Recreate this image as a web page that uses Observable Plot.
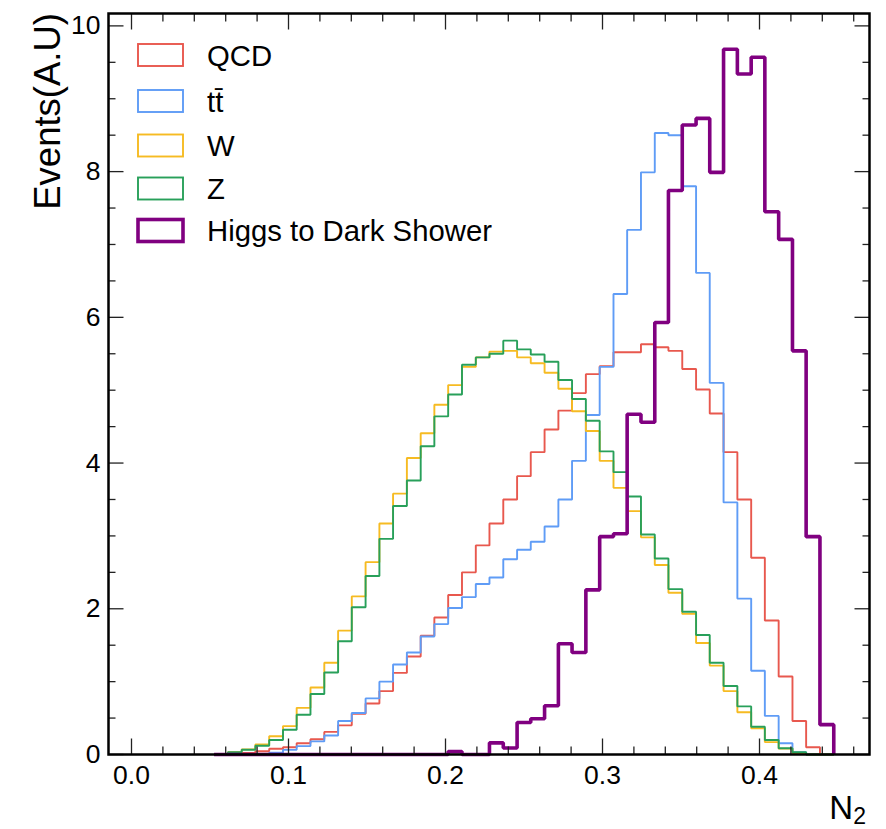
<!DOCTYPE html>
<html>
<head>
<meta charset="utf-8">
<script src="https://cdn.jsdelivr.net/npm/d3@7"></script>
<script src="https://cdn.jsdelivr.net/npm/@observablehq/plot@0.6"></script>
<style>
  html, body { margin: 0; padding: 0; background: #fff; }
  #chart svg { display: block; }
</style>
</head>
<body>
<div id="chart"></div>
<script>
// Bin edges of N2 (left edges of each bin, plus final right edge)
const binEdges = [0.0526, 0.0614, 0.0702, 0.0789, 0.0877, 0.0965, 0.1052, 0.1140, 0.1228, 0.1316,
  0.1403, 0.1491, 0.1579, 0.1666, 0.1754, 0.1842, 0.1929, 0.2017, 0.2105, 0.2193,
  0.2280, 0.2368, 0.2456, 0.2543, 0.2631, 0.2719, 0.2806, 0.2894, 0.2982, 0.3070,
  0.3157, 0.3245, 0.3333, 0.3420, 0.3508, 0.3596, 0.3683, 0.3771, 0.3859, 0.3947,
  0.4034, 0.4122, 0.4210, 0.4297, 0.4385, 0.4473];

// Bin contents (Events, A.U.)
const qcd = [0, 0, 0.02, 0.045, 0.078, 0.10, 0.155, 0.21, 0.31, 0.40,
  0.56, 0.70, 0.87, 1.12, 1.345, 1.63, 1.88, 2.19, 2.50, 2.87,
  3.17, 3.50, 3.82, 4.15, 4.46, 4.72, 4.96, 5.22, 5.33, 5.52,
  5.52, 5.63, 5.59, 5.54, 5.29, 5.01, 4.68, 4.15, 3.50, 2.70,
  1.84, 1.07, 0.46, 0.10, 0];
const ttbar = [0, 0, 0, 0, 0.023, 0.064, 0.115, 0.18, 0.26, 0.46,
  0.57, 0.77, 1.00, 1.235, 1.40, 1.62, 1.79, 2.01, 2.16, 2.34,
  2.43, 2.68, 2.81, 2.92, 3.13, 3.50, 4.03, 4.66, 5.32, 6.32,
  7.20, 7.99, 8.53, 8.50, 7.80, 6.61, 5.10, 3.46, 2.14, 1.15,
  0.53, 0.155, 0.03, 0, 0];
const wjets = [0, 0.03, 0.07, 0.137, 0.25, 0.39, 0.64, 0.92, 1.26, 1.70,
  2.17, 2.64, 3.17, 3.58, 4.07, 4.41, 4.80, 5.07, 5.32, 5.45,
  5.53, 5.54, 5.45, 5.37, 5.24, 5.02, 4.71, 4.44, 4.03, 3.66,
  3.34, 2.98, 2.60, 2.22, 1.93, 1.53, 1.22, 0.87, 0.58, 0.36,
  0.17, 0.08, 0.02, 0, 0];
const zjets = [0, 0.03, 0.065, 0.12, 0.20, 0.34, 0.545, 0.83, 1.125, 1.555,
  2.02, 2.45, 2.96, 3.41, 3.76, 4.23, 4.64, 4.94, 5.35, 5.45,
  5.50, 5.68, 5.56, 5.49, 5.39, 5.14, 4.88, 4.58, 4.16, 3.875,
  3.54, 3.02, 2.69, 2.27, 1.96, 1.64, 1.26, 0.94, 0.66, 0.38,
  0.20, 0.085, 0.03, 0, 0];
const higgs = [0, 0, 0, 0, 0, 0, 0, 0, 0, 0,
  0, 0, 0, 0, 0, 0, 0, 0.04, 0, 0,
  0.16, 0.09, 0.44, 0.49, 0.67, 1.52, 1.40, 2.26, 2.99, 3.03,
  4.67, 4.56, 5.93, 7.74, 8.64, 8.73, 7.99, 9.68, 9.34, 9.57,
  7.45, 7.07, 5.54, 2.99, 0.41];

const seriesNames = ["QCD", "tt\u0304", "W", "Z", "Higgs to Dark Shower"];
const seriesValues = [qcd, ttbar, wjets, zjets, higgs];
const seriesColors = ["#e8584e", "#5f9cf6", "#f6bb22", "#28a05a", "#800080"];
const seriesWidths = [1.9, 1.9, 1.9, 1.9, 3.6];

// Axis ticks
const xMajor = [0.0, 0.1, 0.2, 0.3, 0.4];
const xMinor = [0.02, 0.04, 0.06, 0.08, 0.12, 0.14, 0.16, 0.18, 0.22, 0.24, 0.26, 0.28,
  0.32, 0.34, 0.36, 0.38, 0.42, 0.44, 0.46];
const yMajor = [0, 2, 4, 6, 8, 10];
const yMinor = [0.5, 1, 1.5, 2.5, 3, 3.5, 4.5, 5, 5.5, 6.5, 7, 7.5, 8.5, 9, 9.5];

// Step tables built from the arrays
function stepTable(vals) {
  const rows = vals.map((v, i) => ({x: binEdges[i], y: v}));
  rows.push({x: binEdges[vals.length], y: 0});
  return rows;
}

const FONT = "'Liberation Sans', Arial, Helvetica, sans-serif";
const tickColor = "#222";

const lineMarks = seriesValues.map((vals, i) =>
  Plot.line(stepTable(vals), {
    x: "x", y: "y", curve: "step-after",
    stroke: seriesColors[i], strokeWidth: seriesWidths[i],
    strokeLinejoin: "miter", strokeLinecap: "butt"
  })
);

const blank = () => "";
const svg = Plot.plot({
  width: 886,
  height: 829,
  marginLeft: 108,
  marginRight: 17,
  marginTop: 13,
  marginBottom: 75,
  style: {fontFamily: FONT, background: "#fff", color: "#000", overflow: "visible"},
  x: {domain: [-0.01465, 0.47006]},
  y: {domain: [0, 10.17]},
  marks: [
    ...lineMarks,
    Plot.axisX(xMinor, {anchor: "bottom", tickSize: -7.5, tickFormat: blank, label: null, stroke: tickColor, strokeWidth: 1.3}),
    Plot.axisX(xMinor, {anchor: "top", tickSize: -7.5, tickFormat: blank, label: null, stroke: tickColor, strokeWidth: 1.3}),
    Plot.axisX(xMajor, {anchor: "bottom", tickSize: -15.5, tickFormat: blank, label: null, stroke: tickColor, strokeWidth: 1.3}),
    Plot.axisX(xMajor, {anchor: "top", tickSize: -15.5, tickFormat: blank, label: null, stroke: tickColor, strokeWidth: 1.3}),
    Plot.axisY(yMinor, {anchor: "left", tickSize: -7.5, tickFormat: blank, label: null, stroke: tickColor, strokeWidth: 1.3}),
    Plot.axisY(yMinor, {anchor: "right", tickSize: -7.5, tickFormat: blank, label: null, stroke: tickColor, strokeWidth: 1.3}),
    Plot.axisY(yMajor, {anchor: "left", tickSize: -15.5, tickFormat: blank, label: null, stroke: tickColor, strokeWidth: 1.3}),
    Plot.axisY(yMajor, {anchor: "right", tickSize: -15.5, tickFormat: blank, label: null, stroke: tickColor, strokeWidth: 1.3}),
    Plot.axisX(xMajor, {anchor: "bottom", tickSize: 0, tickPadding: 11, tickFormat: d => d.toFixed(1), label: null, fontSize: 26.5, fill: "#000"}),
    Plot.axisY(yMajor, {anchor: "left", tickSize: 0, tickPadding: 8, tickFormat: d => String(d), label: null, fontSize: 26.5, fill: "#000"}),
    Plot.frame({stroke: "#000", strokeWidth: 2.5})
  ]
});

document.getElementById("chart").appendChild(svg);

const root = d3.select(svg);

// Legend (inside the plot area, top-left)
const legendY = [55, 101, 145.5, 188.5, 230.5];
const legend = root.append("g")
  .attr("font-family", FONT)
  .attr("text-anchor", "start");
seriesNames.forEach((name, i) => {
  const cy = legendY[i];
  legend.append("rect")
    .attr("x", 138).attr("y", cy - 11)
    .attr("width", 45).attr("height", 22)
    .attr("fill", "none")
    .attr("stroke", seriesColors[i])
    .attr("stroke-width", seriesWidths[i]);
  legend.append("text")
    .attr("x", 207).attr("y", cy)
    .attr("dy", "0.36em")
    .attr("text-anchor", "start")
    .attr("font-size", 29.3)
    .attr("fill", "#000")
    .text(name);
});

// Y axis label
root.append("text")
  .attr("transform", "translate(59.5,13) rotate(-90)")
  .attr("text-anchor", "end")
  .attr("font-family", FONT)
  .attr("font-size", 36.5)
  .attr("fill", "#000")
  .text("Events(A.U)");

// X axis label N_2
const xl = root.append("text")
  .attr("x", 866).attr("y", 819)
  .attr("text-anchor", "end")
  .attr("font-family", FONT)
  .attr("fill", "#000");
xl.append("tspan").attr("font-size", 33).text("N");
xl.append("tspan").attr("font-size", 23).attr("dy", 5).text("2");
</script>
</body>
</html>
